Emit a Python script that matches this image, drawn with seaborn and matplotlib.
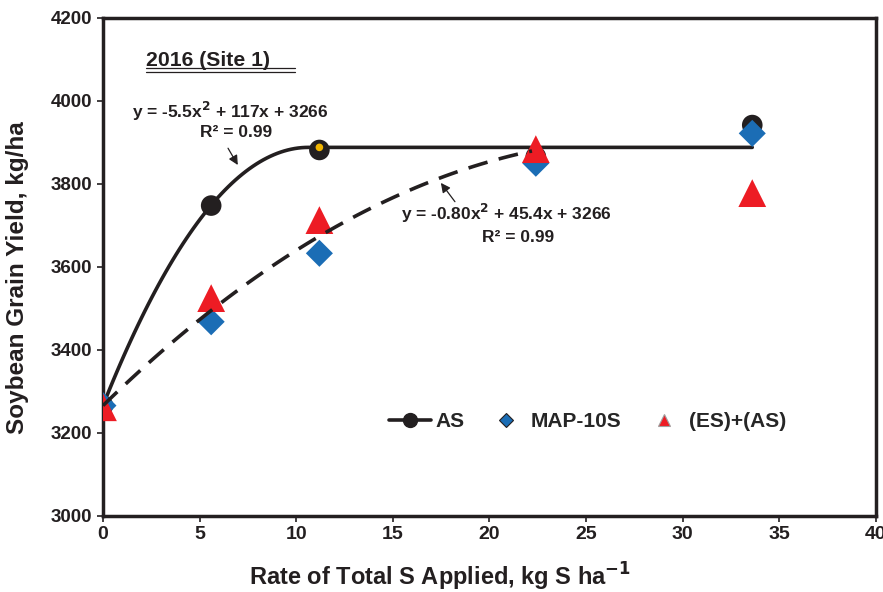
import numpy as np
import pandas as pd
import matplotlib
matplotlib.use("Agg")
import matplotlib.pyplot as plt
import seaborn as sns
from matplotlib.lines import Line2D

# --- data ---
rates = [0, 5.6, 11.2, 22.4, 33.6]
as_yield = [3266, 3748, 3882, 3866, 3942]
map10s_yield = [3266, 3468, 3633, 3850, 3922]
esas_yield = [3262, 3525, 3713, 3884, 3778]

# quadratic-plateau fits shown on the chart
as_coef = [-5.5, 117, 3266]
map_coef = [-0.80, 45.4, 3266]
as_join = 10.64
map_end = 22.2
plateau_end = 33.6

sns.set_style("white")
plt.rcParams['font.family'] = ['Liberation Sans', 'DejaVu Sans']
plt.rcParams['font.weight'] = 'bold'
ink = '#231f20'

fig = plt.figure(figsize=(8.83, 5.92), dpi=100)
ax = fig.add_axes([0.1166, 0.1284, 0.8754, 0.8412])

# fitted lines
xa = np.linspace(0, as_join, 60)
ya = np.polyval(as_coef, xa)
plateau = ya[-1]
xa = np.append(xa, plateau_end)
ya = np.append(ya, plateau)
sns.lineplot(x=xa, y=ya, ax=ax, color=ink, lw=2.6, zorder=1, sort=False)

xm = np.linspace(0, map_end, 60)
ym = np.polyval(map_coef, xm)
ax.plot(xm, ym, color=ink, lw=2.6, dashes=(5.5, 3.2), zorder=5)

df = pd.DataFrame({'rate': rates, 'AS': as_yield, 'MAP': map10s_yield, 'ESAS': esas_yield})
sns.scatterplot(data=df, x='rate', y='AS', ax=ax, color=ink, marker='o',
                s=220, edgecolor='none', zorder=2)
ax.scatter([11.2], [plateau], s=30, color='#f0b400', edgecolor='none', zorder=2.5)
sns.scatterplot(data=df, x='rate', y='MAP', ax=ax, color='#1b6db5', marker='D',
                s=190, edgecolor='none', zorder=3)
sns.scatterplot(data=df, x='rate', y='ESAS', ax=ax, color='#ed1c24', marker='^',
                s=400, edgecolor='none', zorder=4)

# axes styling
ax.set_xlim(0, 40)
ax.set_ylim(3000, 4200)
ax.set_xticks(range(0, 41, 5))
ax.set_yticks(range(3000, 4201, 200))
ax.tick_params(axis='both', direction='out', length=4, width=1.2, colors=ink,
               bottom=True, left=True)
for lab in ax.get_xticklabels():
    lab.set_fontweight('bold')
    lab.set_fontsize(14)
for lab in ax.get_yticklabels():
    lab.set_fontweight('bold')
    lab.set_fontsize(13.5)
for sp in ax.spines.values():
    sp.set_linewidth(2.5)
    sp.set_color(ink)

ax.set_xlabel('Rate of Total S Applied, kg S ha$^{\\mathbf{-1}}$', fontsize=17,
              fontweight='bold', color=ink, va='center')
ax.xaxis.set_label_coords(0.436, -0.122)
ax.set_ylabel('Soybean Grain Yield, kg/ha', fontsize=17.5, fontweight='bold',
              color=ink, va='center')
ax.yaxis.set_label_coords(-0.111, 0.478)

# title with double underline
ax.text(2.25, 4097, '2016 (Site 1)', fontsize=15.3, fontweight='bold', color=ink,
        ha='left', va='center')
ax.plot([0.0556, 0.248], [0.899, 0.899], transform=ax.transAxes, color=ink, lw=0.9)
ax.plot([0.0556, 0.248], [0.892, 0.892], transform=ax.transAxes, color=ink, lw=0.9)

# equations
ax.text(6.6, 3975, 'y = -5.5x$^{\\mathbf{2}}$ + 117x + 3266', fontsize=12.5, fontweight='bold',
        color=ink, ha='center', va='center')
ax.text(6.9, 3923, 'R² = 0.99', fontsize=12.5, fontweight='bold', color=ink,
        ha='center', va='center')
ax.annotate('', xy=(7.05, 3840), xytext=(6.4, 3892),
            arrowprops=dict(arrowstyle='-|>', color=ink, lw=0.9, mutation_scale=14))

ax.text(20.9, 3730, 'y = -0.80x$^{\\mathbf{2}}$ + 45.4x + 3266', fontsize=12.5, fontweight='bold',
        color=ink, ha='center', va='center')
ax.text(21.5, 3672, 'R² = 0.99', fontsize=12.5, fontweight='bold', color=ink,
        ha='center', va='center')
ax.annotate('', xy=(17.4, 3808), xytext=(18.3, 3752),
            arrowprops=dict(arrowstyle='-|>', color=ink, lw=0.9, mutation_scale=14))

# legend
handles = [
    Line2D([0], [0], color=ink, lw=2.6, marker='o', markersize=10),
    Line2D([0], [0], color='none', marker='D', markersize=7, markerfacecolor='#1b6db5',
           markeredgecolor=ink, markeredgewidth=0.8),
    Line2D([0], [0], color='none', marker='^', markersize=9, markerfacecolor='#ed1c24',
           markeredgecolor='#a0a0a0', markeredgewidth=0.8),
]
ax.legend(handles, ['AS', 'MAP-10S', '(ES)+(AS)'], loc='center', bbox_to_anchor=(0.627, 0.19),
          ncol=3, frameon=False, handlelength=2.0, columnspacing=1.0, handletextpad=0.2,
          prop={'weight': 'bold', 'size': 15})

fig.savefig('out.png', dpi=100)
